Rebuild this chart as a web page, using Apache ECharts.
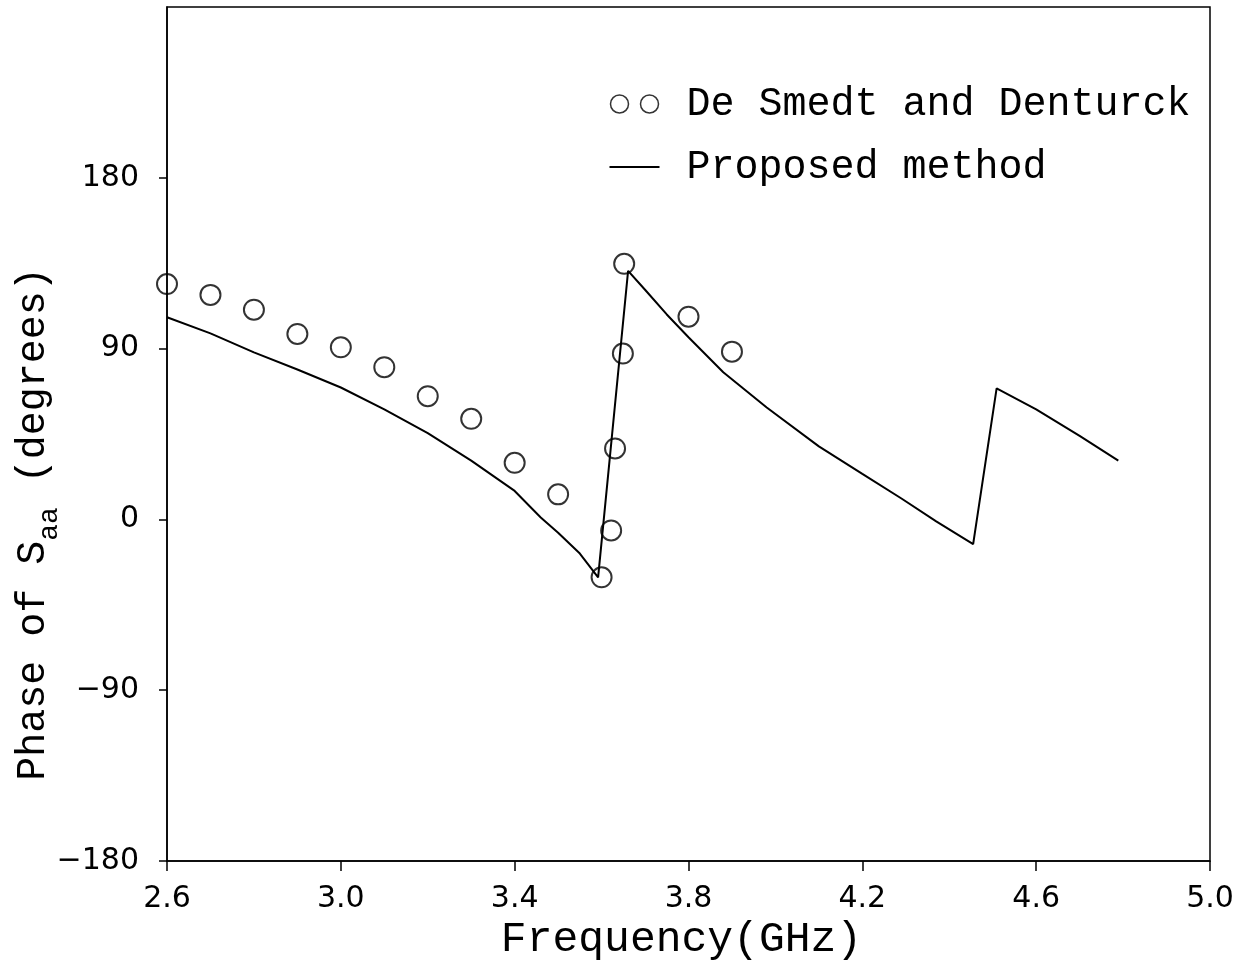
<!DOCTYPE html>
<html>
<head>
<meta charset="utf-8">
<script src="https://cdn.jsdelivr.net/npm/echarts@6/dist/echarts.min.js"></script>
<style>
  html, body { margin: 0; padding: 0; background: #fff; }
  #chart { width: 1245px; height: 971px; }
</style>
</head>
<body>
<div id="chart"></div>
<script>
// measured data: De Smedt and Denturck (circles)
const measFreq = [2.6, 2.7, 2.8, 2.9, 3.0, 3.1, 3.2, 3.3, 3.4, 3.5, 3.6, 3.622, 3.631, 3.649, 3.652, 3.8, 3.9];
const measPhase = [124, 118.3, 110.5, 97.7, 90.7, 80.2, 64.9, 53, 29.8, 13.2, -30.5, -5.8, 37.4, 87.4, 134.7, 106.8, 88.4];

// proposed method (solid line)
const calcFreq = [2.6, 2.7, 2.8, 2.9, 3.0, 3.1, 3.2, 3.3, 3.4, 3.46, 3.5, 3.55, 3.592, 3.661, 3.7, 3.75, 3.8, 3.88, 3.98, 4.1, 4.2, 4.29, 4.37, 4.455, 4.509, 4.6, 4.7, 4.789];
const calcPhase = [106.5, 98, 88, 79, 69.5, 58, 45.5, 31, 15, 1, -7, -18, -30.5, 131, 121, 108, 96, 77.5, 59, 38.5, 24, 11, -1, -13, 69, 58, 44, 31];

const xTicks = [2.6, 3.0, 3.4, 3.8, 4.2, 4.6, 5.0];
const yTicks = [-180, -90, 0, 90, 180];

const chart = echarts.init(document.getElementById('chart'));
const mono = 'Liberation Mono';
const tickFont = 'DejaVu Sans';

const option = {
  animation: false,
  backgroundColor: '#fff',
  grid: {
    left: 167, right: 35, top: 7, bottom: 110,
    outerBoundsMode: 'none',
    containLabel: false,
    show: true, borderColor: '#000', borderWidth: 1.5
  },
  legend: {
    orient: 'vertical',
    left: 603,
    top: 79,
    itemWidth: 50,
    itemHeight: 18,
    itemGap: 23,
    textStyle: { fontFamily: mono, fontSize: 40, color: '#000', padding: [0, 0, 0, 22] },
    data: [
      {
        name: 'De Smedt and Denturck',
        icon: 'path://M0,9a9,9 0 1,0 18,0a9,9 0 1,0 -18,0M30,9a9,9 0 1,0 18,0a9,9 0 1,0 -18,0',
        itemStyle: { color: 'none', borderColor: '#000', borderWidth: 1.5 }
      },
      {
        name: 'Proposed method',
        itemStyle: { color: 'transparent', borderWidth: 0 }
      }
    ]
  },
  xAxis: {
    type: 'value',
    min: xTicks[0],
    max: xTicks[xTicks.length - 1],
    interval: 0.4,
    name: 'Frequency(GHz)',
    nameLocation: 'middle',
    nameGap: 57,
    nameMoveOverlap: false,
    nameTextStyle: { fontFamily: mono, fontSize: 43, color: '#000', padding: [0, 14, 0, 0] },
    axisLine: { onZero: false, lineStyle: { color: '#000', width: 1.5 } },
    axisTick: { show: true, length: 10, lineStyle: { color: '#000', width: 1.5 } },
    axisLabel: {
      margin: 23, fontFamily: tickFont, fontSize: 30, color: '#000',
      formatter: v => v.toFixed(1)
    },
    splitLine: { show: false }
  },
  yAxis: {
    type: 'value',
    min: yTicks[0],
    max: 270,
    interval: 90,
    name: '{m|Phase of S}{sub|aa}{m| (degrees)}',
    nameLocation: 'middle',
    nameGap: 114,
    nameMoveOverlap: false,
    nameTextStyle: {
      fontFamily: mono, fontSize: 40, color: '#000',
      padding: [0, 180, 0, 0],
      rich: {
        m: { fontFamily: mono, fontSize: 40, lineHeight: 40, color: '#000', verticalAlign: 'top' },
        sub: { fontFamily: mono, fontSize: 28, lineHeight: 28, color: '#000', padding: [23, 0, 0, 0], verticalAlign: 'top' }
      }
    },
    axisLine: { onZero: false, lineStyle: { color: '#000', width: 1.5 } },
    axisTick: { show: true, length: 8, customValues: yTicks, lineStyle: { color: '#000', width: 1.5 } },
    axisLabel: {
      margin: 28, fontFamily: tickFont, fontSize: 30, color: '#000',
      customValues: yTicks,
      formatter: v => (yTicks.indexOf(v) < 0 ? '' : (v < 0 ? '\u2212' + (-v) : String(v)))
    },
    splitLine: { show: false }
  },
  series: [
    {
      name: 'De Smedt and Denturck',
      type: 'scatter',
      symbol: 'circle',
      symbolSize: 20,
      itemStyle: { color: 'none', borderColor: '#000', borderWidth: 2 },
      data: measFreq.map((f, i) => [f, measPhase[i]]),
      z: 3
    },
    {
      name: 'Proposed method',
      type: 'line',
      symbol: 'none',
      lineStyle: { color: '#000', width: 2 },
      itemStyle: { color: '#000' },
      data: calcFreq.map((f, i) => [f, calcPhase[i]]),
      z: 2
    }
  ]
};

chart.setOption(option);
</script>
</body>
</html>
